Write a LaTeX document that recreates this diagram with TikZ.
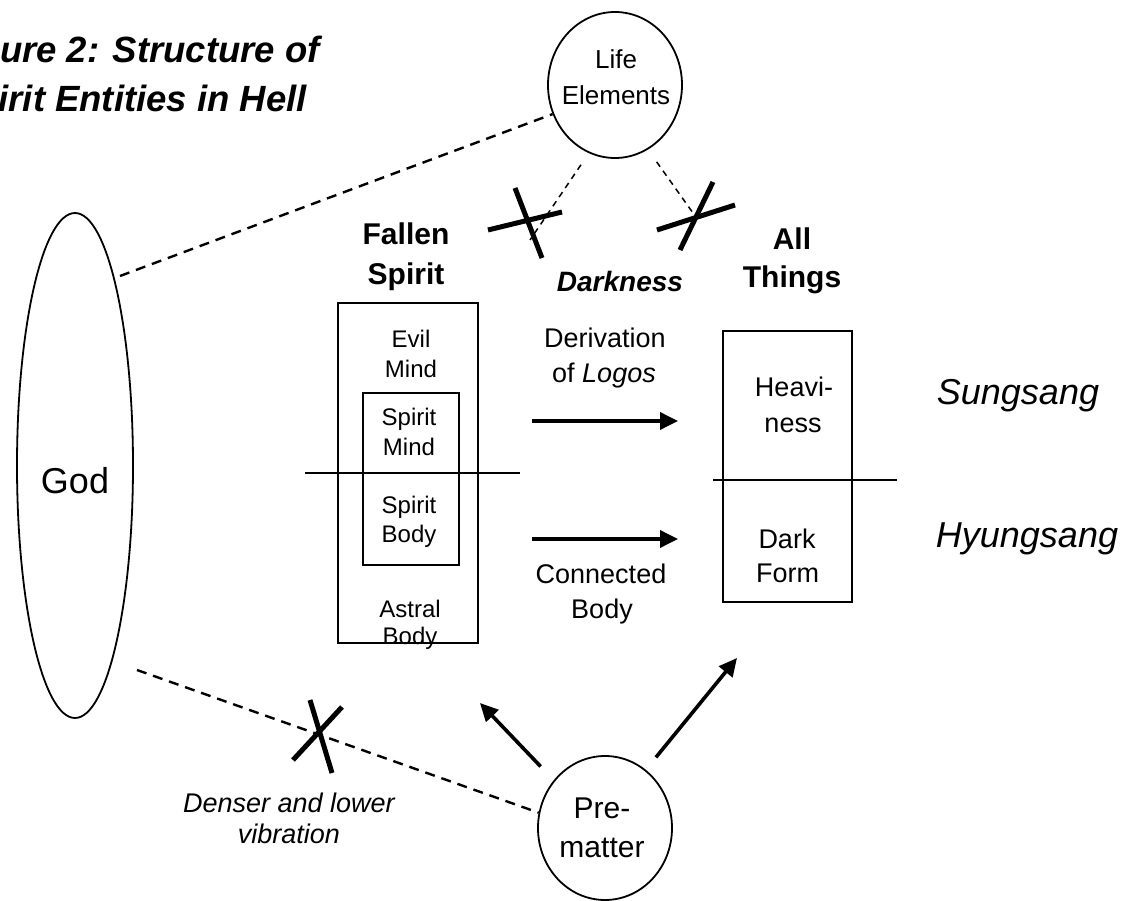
\documentclass[tikz,border=0pt]{standalone}
\usepackage{fontspec}
\setmainfont{Liberation Sans}
\usetikzlibrary{shapes.geometric,arrows.meta}
\newcommand\fsz[2]{\fontsize{#1}{#2}\selectfont}
\begin{document}
\begin{tikzpicture}[x=1pt,y=-1pt,
  txt/.style={inner sep=0pt, anchor=base},
  ring/.style={draw, ellipse, line width=1.8pt, inner sep=0pt},
  boxnode/.style={draw, rectangle, line width=1.8pt, inner sep=0pt},
  rule/.style={line width=1.8pt},
  longdash/.style={line width=2.4pt, dash pattern=on 10pt off 7pt},
  shortdash/.style={line width=1.5pt, dash pattern=on 6pt off 5pt},
  arr/.style={line width=3.6pt, -{Triangle[length=18pt,width=17pt]}},
  xstroke/.style={line width=5pt},
  boxtxt/.style={txt, font=\fsz{24}{28}},
  midtxt/.style={txt, font=\fsz{27}{32}},
  headtxt/.style={txt, font=\fsz{30}{36}\bfseries},
]
\fill[white] (0,0) rectangle (1128,901);
\useasboundingbox (0,0) rectangle (1128,901);

% title
\node[txt, anchor=base east, font=\fsz{36.5}{42}\bfseries\itshape] (title1) at (320,63) {ure 2: Structure of};
\node[txt, anchor=base east, font=\fsz{36.5}{42}\bfseries\itshape] (title2) at (307,112) {irit Entities in Hell};

% God
\node[ring, minimum width=116pt, minimum height=505pt] (god) at (75,465.5) {};
\node[txt, font=\fsz{36}{40}] (godtxt) at (75,493) {God};

% Life Elements
\node[ring, minimum width=134pt, minimum height=146pt] (life) at (615,85) {};
\node[txt, font=\fsz{26}{30}] (lifet1) at (616,69) {Life};
\node[txt, font=\fsz{26}{30}] (lifet2) at (616,105) {Elements};

% Pre-matter
\node[ring, minimum width=134pt, minimum height=144pt] (pre) at (605,828) {};
\node[txt, font=\fsz{30}{34}] (pret1) at (602,818) {Pre-};
\node[txt, font=\fsz{30}{34}] (pret2) at (602,857) {matter};

% headings
\node[headtxt] (fs1) at (406,245) {Fallen};
\node[headtxt] (fs2) at (406,285) {Spirit};
\node[txt, font=\fsz{28}{32}\bfseries\itshape] (dark) at (620,292) {Darkness};
\node[headtxt] (at1) at (792,250) {All};
\node[headtxt] (at2) at (792,288) {Things};

% Fallen spirit box
\node[boxnode, minimum width=140pt, minimum height=340pt] (fbox) at (408,473) {};
\node[boxnode, minimum width=96pt, minimum height=172pt] (ibox) at (411,479) {};
\draw[rule] (305,473) -- (520,473);
\node[boxtxt] (em1) at (411,348) {Evil};
\node[boxtxt] (em2) at (411,378) {Mind};
\node[boxtxt] (sm1) at (409,425) {Spirit};
\node[boxtxt] (sm2) at (409,455) {Mind};
\node[boxtxt] (sb1) at (409,513) {Spirit};
\node[boxtxt] (sb2) at (409,542) {Body};
\node[boxtxt] (ab1) at (410,617) {Astral};
\node[boxtxt] (ab2) at (410,644) {Body};

% All things box
\node[boxnode, minimum width=129pt, minimum height=271pt] (abox) at (787.5,466.5) {};
\draw[rule] (713,480) -- (897,480);
\node[midtxt] (hv1) at (794,397) {Heavi-};
\node[midtxt] (hv2) at (793,432) {ness};
\node[midtxt] (df1) at (787,548) {Dark};
\node[midtxt] (df2) at (787.5,582) {Form};

% arrow labels
\node[midtxt] (dl1) at (605,348) {Derivation};
\node[midtxt] (dl2) at (604,383) {of \textit{Logos}};
\node[midtxt] (cb1) at (601,583) {Connected};
\node[midtxt] (cb2) at (602,618) {Body};

% Sungsang / Hyungsang
\node[txt, font=\fsz{36}{40}\itshape] (sung) at (1018,405) {Sungsang};
\node[txt, font=\fsz{36}{40}\itshape] (hyung) at (1027,547) {Hyungsang};

% Denser label
\node[txt, font=\fsz{27}{32}\itshape] (den1) at (289,812) {Denser and lower};
\node[txt, font=\fsz{27}{32}\itshape] (den2) at (289,843) {vibration};

% coordinates for free ends
\coordinate (godU) at (120,276);
\coordinate (godL) at (137,670);
\coordinate (lifeLend) at (530,240);
\coordinate (lifeRend) at (693,213);
\coordinate (d1s) at (532,421);
\coordinate (d1e) at (678,421);
\coordinate (d2s) at (532,539);
\coordinate (d2e) at (678,539);
\coordinate (pl) at (480,703);
\coordinate (pr) at (737,658);

% dashed connectors
\draw[longdash] (godU) -- (life.205);
\draw[longdash] (godL) -- (pre.167);
\draw[shortdash, shorten <=14pt] (life.249) -- (lifeLend);
\draw[shortdash, shorten <=15pt] (life.297) -- (lifeRend);

% arrows
\draw[arr] (d1s) -- (d1e);
\draw[arr] (d2s) -- (d2e);
\draw[arr, shorten <=19pt] (pre.137) -- (pl);
\draw[arr, shorten <=16pt] (pre.55) -- (pr);

% crosses
\draw[xstroke] (488,230) -- (562,212);
\draw[xstroke] (515,188) -- (542,258);
\draw[xstroke] (657,230) -- (735,205);
\draw[xstroke] (713,182) -- (680,250);
\draw[xstroke] (293,760) -- (342,707);
\draw[xstroke] (310,700) -- (332,773);
\end{tikzpicture}
\end{document}
